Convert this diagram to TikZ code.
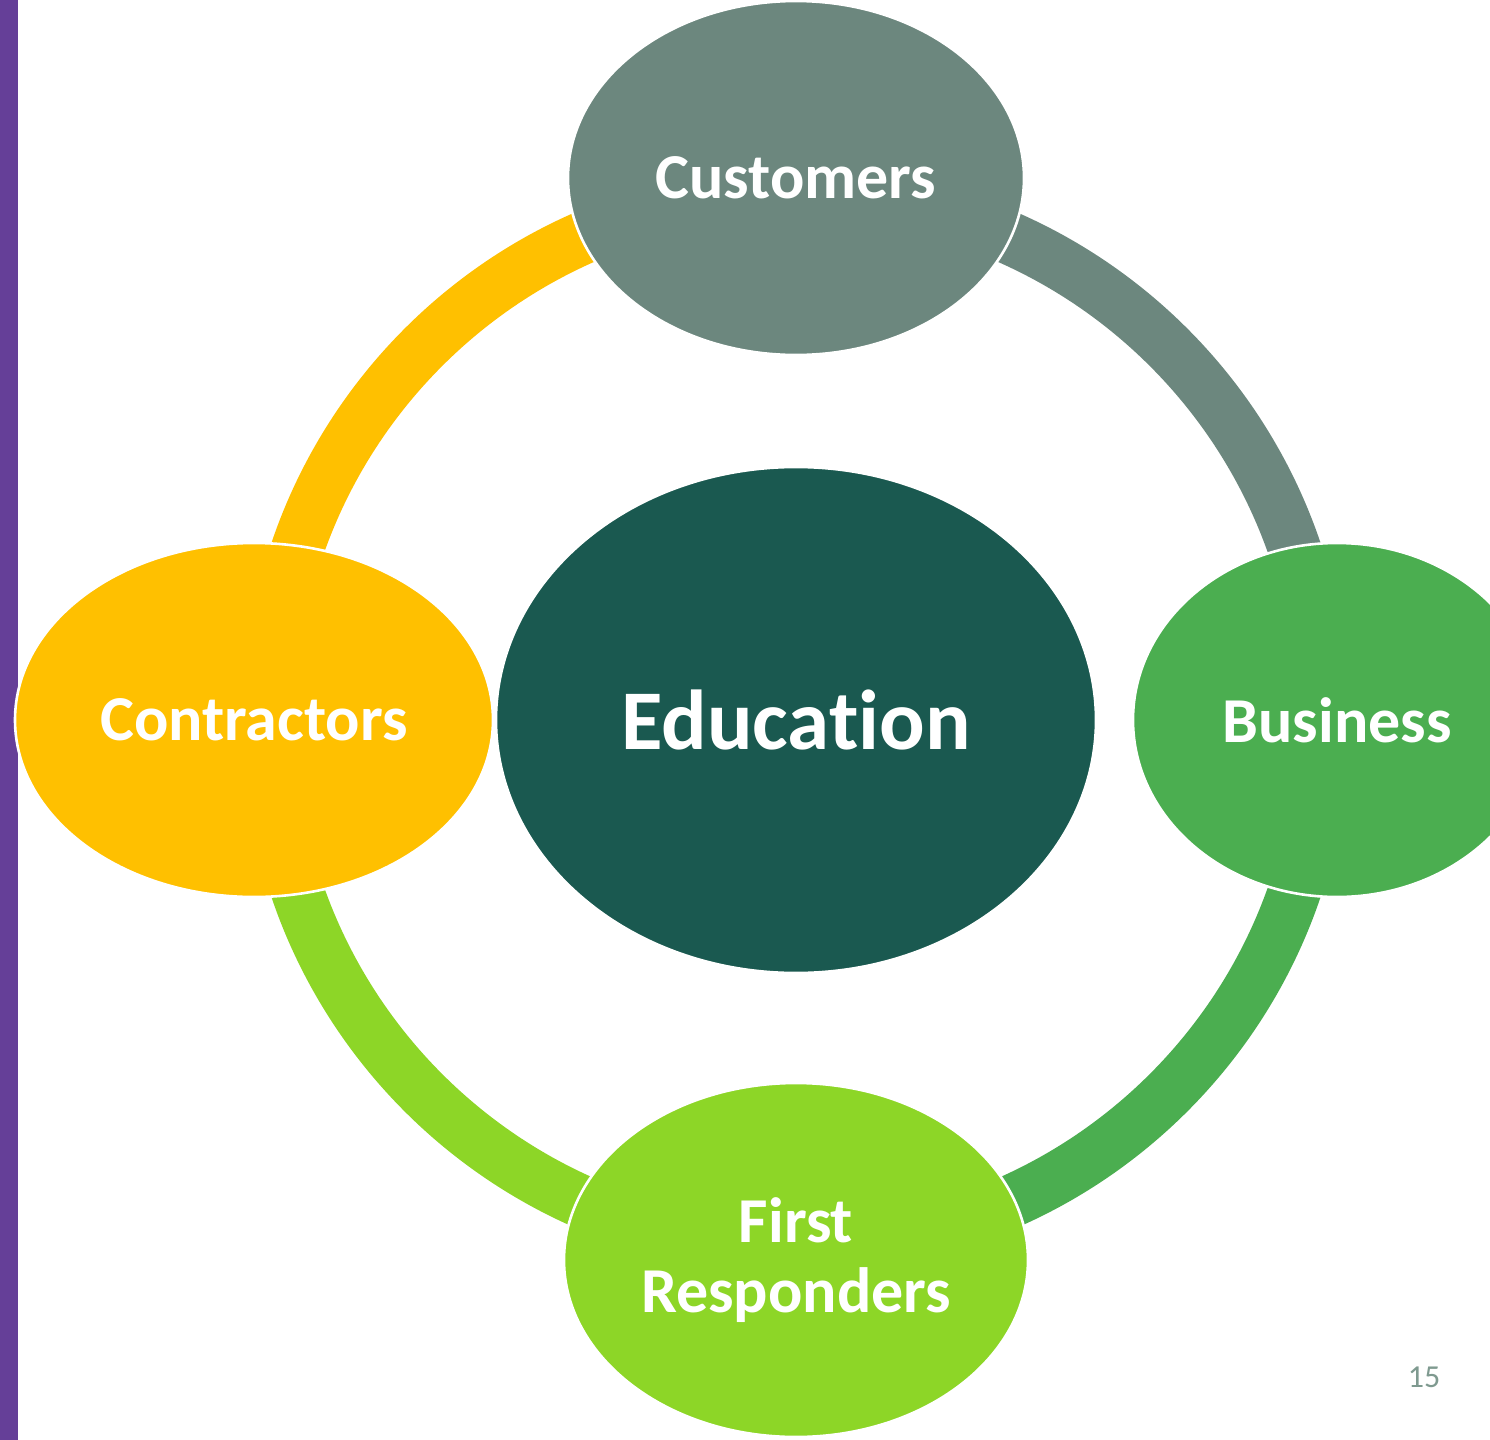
\documentclass[tikz,border=0pt]{standalone}
\usepackage{fontspec}
\setmainfont{Carlito}[Ligatures={NoCommon,NoRare,NoDiscretionary}]
\usetikzlibrary{shapes.geometric}
\definecolor{cust}{HTML}{6C877E}
\definecolor{edu}{HTML}{1A5950}
\definecolor{contr}{HTML}{FFC000}
\definecolor{busi}{HTML}{4BAE50}
\definecolor{resp}{HTML}{8DD627}
\definecolor{bar}{HTML}{653F98}
\definecolor{pgnum}{HTML}{7F9A90}
\tikzset{
  blob/.style={ellipse, draw=white, line width=1.3pt, inner sep=0pt, text=white,
    font=\fontsize{32}{35}\selectfont\bfseries, align=center},
  ring/.style={line width=26.5pt}
}
\begin{document}
\begin{tikzpicture}[x=0.5pt,y=-0.5pt]
\useasboundingbox (0,0) rectangle (1490,1440);
\clip (0,0) rectangle (1490,1440);
\fill[white] (0,0) rectangle (1490,1440);
\fill[bar] (0,0) rectangle (18,1440);
\coordinate (c) at (796,720);
% ring connectors
\draw[ring, contr] (c) ++(90:263.5pt) arc[start angle=90, end angle=180, radius=263.5pt];
\draw[ring, cust] (c) ++(0:263.5pt) arc[start angle=0, end angle=90, radius=263.5pt];
\draw[ring, busi] (c) ++(-90:263.5pt) arc[start angle=-90, end angle=0, radius=263.5pt];
\draw[ring, resp] (c) ++(180:263.5pt) arc[start angle=180, end angle=270, radius=263.5pt];
% nodes
\node[blob, fill=edu, minimum width=300pt, minimum height=253pt,
  font=\fontsize{42.5}{50}\selectfont\bfseries] (edu) at (796,720) {Education};
\node[blob, fill=cust, minimum width=228pt, minimum height=177pt] (cus) at (796,178) {Customers};
\node[blob, fill=contr, minimum width=239pt, minimum height=177pt] (con) at (254,720) {Contractors};
\node[blob, fill=busi, minimum width=204pt, minimum height=177pt] (bus) at (1337,720) {Business};
\node[blob, fill=resp, minimum width=232pt, minimum height=177pt] (fr) at (796,1260) {First\\Responders};
\node[text=pgnum, font=\fontsize{16}{19}\selectfont, inner sep=0pt] (pg) at (1424,1377) {15};
\end{tikzpicture}
\end{document}
